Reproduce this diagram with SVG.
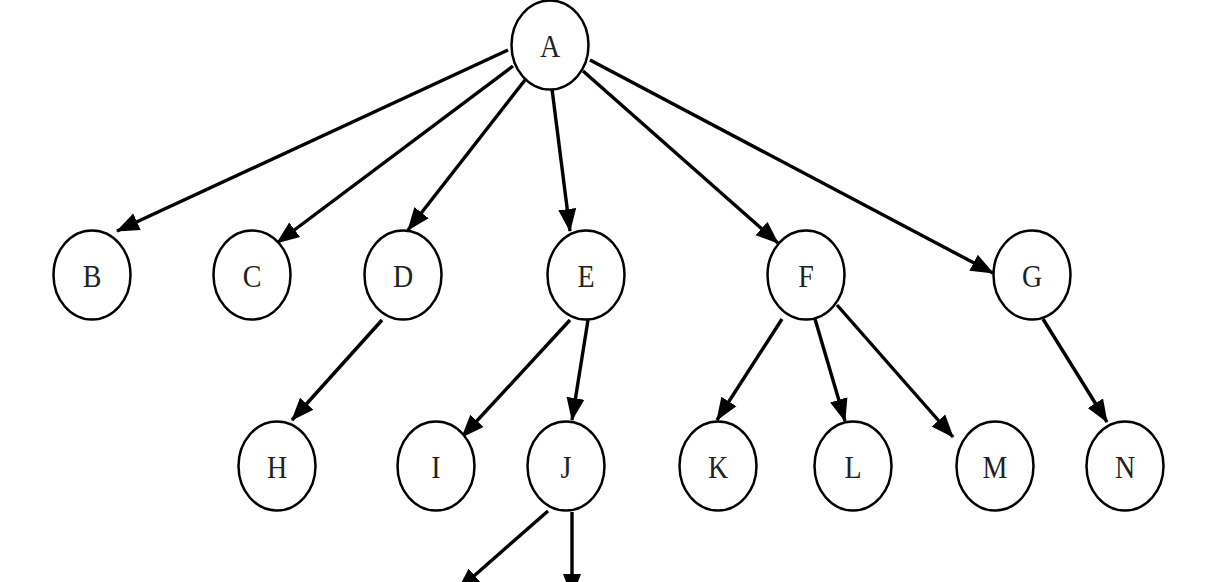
<svg xmlns="http://www.w3.org/2000/svg" width="1208" height="582" viewBox="0 0 1208 582">
<defs>
<style>
.n ellipse{fill:#fff;stroke:#000;stroke-width:2.5}
.n text{font-family:"Liberation Serif","Times New Roman",serif;font-size:28px;text-anchor:middle;fill:#222}
.e line{stroke:#000;stroke-width:3.4;marker-end:url(#ah)}
</style>
<marker id="ah" markerUnits="userSpaceOnUse" markerWidth="25" markerHeight="20" refX="22" refY="10" orient="auto">
<path d="M0,1 L23,10 L0,19 z" fill="#000"/>
</marker>
</defs>
<rect width="1208" height="582" fill="#fff"/>
<g id="edges" class="e">
<line x1="508" y1="50" x2="117" y2="231"/>
<line x1="513" y1="66" x2="277" y2="243"/>
<line x1="525" y1="80" x2="408" y2="230"/>
<line x1="552" y1="89" x2="570" y2="231"/>
<line x1="583" y1="71" x2="778" y2="243"/>
<line x1="590" y1="60" x2="993" y2="273"/>
<line x1="382" y1="320" x2="292" y2="420"/>
<line x1="570" y1="320" x2="462" y2="437"/>
<line x1="588" y1="320" x2="572" y2="420"/>
<line x1="782" y1="319" x2="717" y2="420"/>
<line x1="815" y1="319" x2="845" y2="421"/>
<line x1="837" y1="305" x2="953" y2="437"/>
<line x1="1043" y1="319" x2="1107" y2="422"/>
<line x1="548" y1="511" x2="458" y2="590"/>
<line x1="572" y1="512" x2="572" y2="596"/>
</g>
<g id="A" class="n"><ellipse cx="550" cy="45" rx="38.5" ry="44.5"/><text transform="translate(550,57) scale(1,1.15)">A</text></g>
<g id="B" class="n"><ellipse cx="92" cy="275" rx="38.5" ry="44.5"/><text transform="translate(92,287) scale(1,1.15)">B</text></g>
<g id="C" class="n"><ellipse cx="252" cy="275" rx="38.5" ry="44.5"/><text transform="translate(252,287) scale(1,1.15)">C</text></g>
<g id="D" class="n"><ellipse cx="403" cy="275" rx="38.5" ry="44.5"/><text transform="translate(403,287) scale(1,1.15)">D</text></g>
<g id="E" class="n"><ellipse cx="586" cy="275" rx="38.5" ry="44.5"/><text transform="translate(586,287) scale(1,1.15)">E</text></g>
<g id="F" class="n"><ellipse cx="806" cy="275" rx="38.5" ry="44.5"/><text transform="translate(806,287) scale(1,1.15)">F</text></g>
<g id="G" class="n"><ellipse cx="1032" cy="275" rx="38.5" ry="44.5"/><text transform="translate(1032,287) scale(1,1.15)">G</text></g>
<g id="H" class="n"><ellipse cx="277" cy="466" rx="38.5" ry="44.5"/><text transform="translate(277,478) scale(1,1.15)">H</text></g>
<g id="I" class="n"><ellipse cx="436" cy="466" rx="38.5" ry="44.5"/><text transform="translate(436,478) scale(1,1.15)">I</text></g>
<g id="J" class="n"><ellipse cx="566" cy="466" rx="38.5" ry="44.5"/><text transform="translate(566,478) scale(1,1.15)">J</text></g>
<g id="K" class="n"><ellipse cx="718" cy="466" rx="38.5" ry="44.5"/><text transform="translate(718,478) scale(1,1.15)">K</text></g>
<g id="L" class="n"><ellipse cx="853" cy="466" rx="38.5" ry="44.5"/><text transform="translate(853,478) scale(1,1.15)">L</text></g>
<g id="M" class="n"><ellipse cx="995" cy="466" rx="38.5" ry="44.5"/><text transform="translate(995,478) scale(1,1.15)">M</text></g>
<g id="N" class="n"><ellipse cx="1125" cy="466" rx="38.5" ry="44.5"/><text transform="translate(1125,478) scale(1,1.15)">N</text></g>
</svg>
